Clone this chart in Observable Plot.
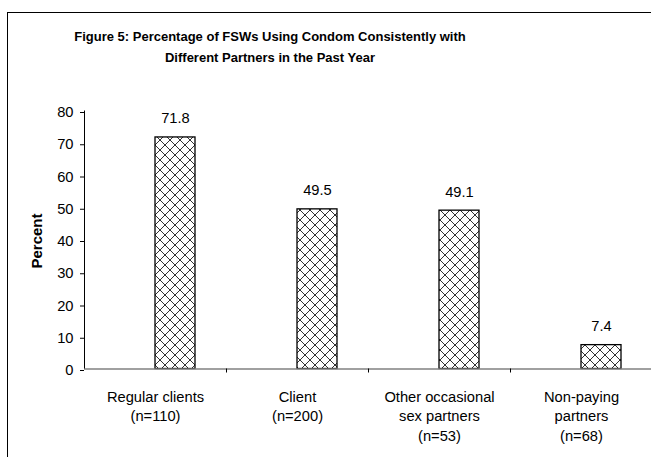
<!DOCTYPE html>
<html>
<head>
<meta charset="utf-8">
<script src="https://cdn.jsdelivr.net/npm/d3@7"></script>
<script src="https://cdn.jsdelivr.net/npm/@observablehq/plot@0.6"></script>
<style>
  html, body { margin: 0; padding: 0; background: #fff; }
  #wrap { position: relative; width: 651px; height: 457px; overflow: hidden; font-family: "Liberation Sans", Arial, sans-serif; }
  #frame { position: absolute; left: 7px; top: 12px; width: 700px; height: 500px; border-left: 1px solid #000; border-top: 1px solid #000; }
  #title { position: absolute; left: 0; width: 540px; top: 26px; text-align: center; font-weight: bold; font-size: 13px; line-height: 21px; color: #000; }
  #chart { position: absolute; left: 0; top: 0; }
</style>
</head>
<body>
<div id="wrap">
  <div id="frame"></div>
  <div id="chart"></div>
  <div id="title">Figure 5: Percentage of FSWs Using Condom Consistently with<br>Different Partners in the Past Year</div>
</div>
<script>
const categories = ["Regular clients\n(n=110)", "Client\n(n=200)", "Other occasional\nsex partners\n(n=53)", "Non-paying\npartners\n(n=68)"];
const values = [71.8, 49.5, 49.1, 7.4];
const yTicks = [0, 10, 20, 30, 40, 50, 60, 70, 80];
const yLabel = "Percent";

const data = categories.map((c, i) => ({i, category: c, value: values[i]}));
const font = "Liberation Sans, Arial, sans-serif";

const chart = Plot.plot({
  width: 651,
  height: 457,
  marginTop: 110.5,
  marginBottom: 88.5,
  marginLeft: 84,
  marginRight: 0,
  style: {fontFamily: font, fontSize: "14.7px", color: "#000", background: "transparent", overflow: "hidden"},
  x: {type: "linear", domain: [0, 4], range: [84, 652]},
  y: {type: "linear", domain: [0, 80]},
  marks: [
    Plot.rectY(data, {x1: "i", x2: d => d.i + 1, y: "value", insetLeft: 71, insetRight: 31, fill: "url(#hatch)", stroke: "#000", strokeWidth: 1.3}),
    Plot.ruleY([0], {x1: 0, x2: 4, stroke: "#808080", strokeWidth: 1.3}),
    Plot.ruleX([0], {y1: 0, y2: 80, stroke: "#000", strokeWidth: 1}),
    Plot.axisY({ticks: yTicks, tickSize: 4, tickPadding: 7, anchor: "left", label: null, fontSize: 14.7, dy: 1.5, stroke: "#000"}),
    Plot.axisX({ticks: [1, 2, 3], tickSize: 4, tickFormat: () => "", label: null, anchor: "bottom", stroke: "#000"}),
    Plot.text(data, {x: d => d.i + 0.5, y: 0, text: "category", lineAnchor: "top", dy: 19, lineHeight: 1.33, fontSize: 14.7, fill: "#000"}),
    Plot.text(data, {x: d => d.i + 0.5, y: "value", text: d => d.value.toFixed(1), dx: 20, dy: -14, lineAnchor: "bottom", fontSize: 14.7, fill: "#000"}),
    Plot.text([yLabel], {x: 0, y: 40, text: d => d, rotate: -90, dx: -47, dy: 1, fontWeight: "bold", fontSize: 15, fill: "#000"})
  ]
});

// hatch pattern
const svg = d3.select(chart.tagName === "svg" ? chart : chart.querySelector("svg"));
const defs = svg.insert("defs", ":first-child");
const pat = defs.append("pattern").attr("id", "hatch").attr("patternUnits", "userSpaceOnUse").attr("width", 10).attr("height", 10);
pat.append("rect").attr("width", 10).attr("height", 10).attr("fill", "#fff");
pat.append("path").attr("d", "M-1,-1 L11,11 M11,-1 L-1,11").attr("stroke", "#333").attr("stroke-width", 1);

document.getElementById("chart").appendChild(chart);
</script>
</body>
</html>
